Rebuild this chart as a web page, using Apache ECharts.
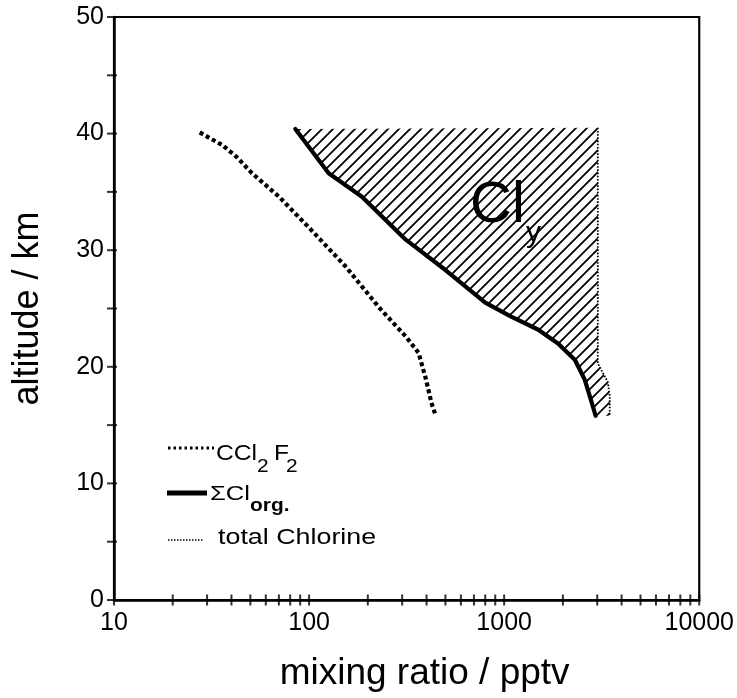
<!DOCTYPE html>
<html>
<head>
<meta charset="utf-8">
<script src="https://cdn.jsdelivr.net/npm/echarts@6/dist/echarts.min.js"></script>
<style>html,body{margin:0;padding:0;background:#fff}#c{width:737px;height:698px}</style>
</head>
<body>
<div id="c"></div>
<script>
// mixing ratio (pptv), altitude (km)
const ccl2f2 = [[27.5,40.1],[36,39.0],[42.5,38.0],[51,36.6],[70,34.6],[103,31.7],[154,28.6],[228,25.1],[313,22.6],[364,21.2],[395,19.1],[424,16.9],[444,15.9]];
const clOrg = [[85,40.4],[126,36.6],[186,34.6],[313,30.9],[500,28.3],[800,25.5],[1086,24.3],[1489,23.2],[1888,22.0],[2303,20.6],[2588,18.9],[2779,17.2],[2944,15.8]];
const totalCl = [[3020,40.5],[3020,30.0],[3020,20.3],[3200,19.5],[3397,18.7],[3477,17.5],[3477,15.8]];
const xTicks = [10,20,30,40,50,60,70,80,90,100,200,300,400,500,600,700,800,900,1000,2000,3000,4000,5000,6000,7000,8000,9000,10000];
const yTicks = [0,5,10,15,20,25,30,35,40,45,50];

const FONT = '"Liberation Sans", Arial, Helvetica, sans-serif';

function hatchCanvas(){
  const s = 11;
  const c = document.createElement('canvas');
  c.width = s; c.height = s;
  const g = c.getContext('2d');
  g.strokeStyle = '#000';
  g.lineWidth = 1.8;
  g.beginPath();
  g.moveTo(-2, s+2); g.lineTo(s+2, -2);
  g.moveTo(-2, 2); g.lineTo(2, -2);
  g.moveTo(s-2, s+2); g.lineTo(s+2, s-2);
  g.stroke();
  return c;
}
const hatch = {image: hatchCanvas(), repeat: 'repeat'};

const hatchPoly = clOrg.concat(totalCl.slice().reverse());

function txt(x, y, s, font, sx){
  return {type: 'text', x: x, y: y, scaleX: sx || 1, z: 10,
    style: {text: s, font: font + ' ' + FONT, fill: '#000', verticalAlign: 'middle'}};
}

const chart = echarts.init(document.getElementById('c'), null, {renderer: 'canvas'});
chart.setOption({
  animation: false,
  backgroundColor: '#fff',
  grid: {left: 114, right: 35, top: 17, bottom: 98, show: true, borderColor: '#000', borderWidth: 2.2, backgroundColor: 'transparent'},
  xAxis: {
    type: 'log', logBase: 10, min: 10, max: 10000,
    name: 'mixing ratio / pptv', nameLocation: 'middle', nameGap: 55,
    nameTextStyle: {fontFamily: FONT, fontSize: 37, color: '#000', padding: [0, 0, 0, 36]},
    axisLine: {show: true, lineStyle: {color: '#000', width: 2.5}},
    axisTick: {show: false},
    splitLine: {show: false},
    minorTick: {show: false},
    axisLabel: {fontFamily: FONT, fontSize: 25, color: '#000', margin: 11, formatter: v => String(Math.round(v))}
  },
  yAxis: {
    type: 'value', min: 0, max: 50, interval: 10,
    name: 'altitude / km', nameLocation: 'middle', nameGap: 68, nameRotate: 90,
    nameTextStyle: {fontFamily: FONT, fontSize: 36, color: '#000'},
    axisLine: {show: true, lineStyle: {color: '#000', width: 2.5}},
    axisTick: {show: false},
    splitLine: {show: false},
    axisLabel: {fontFamily: FONT, fontSize: 25, color: '#000', margin: 10}
  },
  series: [
    {
      type: 'custom', name: 'Cly', z: 1, clip: true,
      data: hatchPoly,
      renderItem: function(params, api){
        if (params.dataIndex !== 0) return;
        const pts = hatchPoly.map(p => api.coord(p));
        return {type: 'polygon', shape: {points: pts}, style: {fill: hatch, stroke: null}};
      }
    },
    {
      type: 'line', name: 'CCl2F2', data: ccl2f2, showSymbol: false, symbol: 'none', z: 3,
      lineStyle: {color: '#000', width: 4.2, type: [4, 3], cap: 'butt'}
    },
    {
      type: 'line', name: 'ClOrg', data: clOrg, showSymbol: false, symbol: 'none', z: 4,
      lineStyle: {color: '#000', width: 4.2, cap: 'round', join: 'round'}
    },
    {
      type: 'line', name: 'totalCl', data: totalCl, showSymbol: false, symbol: 'none', z: 3,
      lineStyle: {color: '#000', width: 1.8, type: [1.6, 1.6], cap: 'butt'}
    },
    {
      type: 'scatter', name: 'xticks', data: xTicks.map(v => [v, 0]), clip: false, z: 5,
      symbol: 'rect', symbolSize: [2, 11], itemStyle: {color: '#000'}, silent: true
    },
    {
      type: 'scatter', name: 'yticks', data: yTicks.map(v => [10, v]), clip: false, z: 5,
      symbol: 'rect', symbolSize: [10, 2], symbolOffset: [-2, 0], itemStyle: {color: '#000'}, silent: true
    }
  ],
  graphic: [
    {type: 'line', shape: {x1: 168, y1: 448, x2: 214, y2: 448}, style: {stroke: '#000', lineWidth: 3, lineDash: [2.5, 3]}},
    txt(216, 454, 'CCl', '22px', 1.12),
    txt(257, 467, '2', '19px', 1.1),
    txt(274, 454, 'F', '22px', 1.12),
    txt(286, 467, '2', '19px', 1.1),
    {type: 'line', shape: {x1: 167, y1: 493, x2: 207, y2: 493}, style: {stroke: '#000', lineWidth: 5}},
    txt(210, 494.5, 'ΣCl', '21px', 1.22),
    txt(250, 506, 'org.', 'bold 19px', 1.1),
    {type: 'line', shape: {x1: 168, y1: 540, x2: 204, y2: 540}, style: {stroke: '#000', lineWidth: 1.5, lineDash: [1.5, 1.5]}},
    txt(218, 537.5, 'total Chlorine', '22px', 1.22),
    txt(470, 206, 'Cl', '58px', 1),
    txt(526, 234, 'y', '30px', 1)
  ]
});
</script>
</body>
</html>
